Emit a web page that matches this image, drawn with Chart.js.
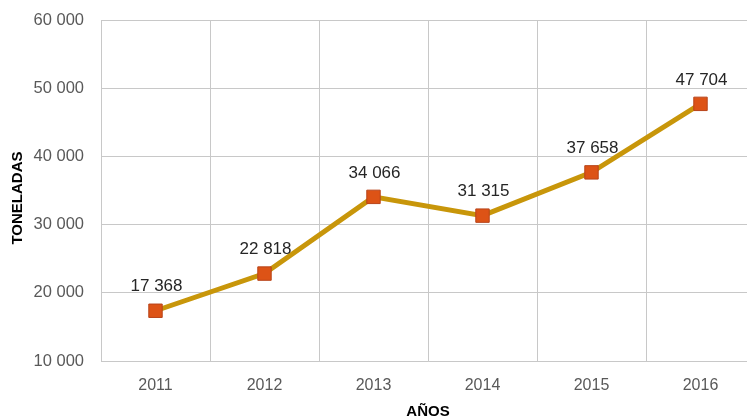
<!DOCTYPE html>
<html>
<head>
<meta charset="utf-8">
<script src="https://cdn.jsdelivr.net/npm/chart.js@4"></script>
<style>
html,body{margin:0;padding:0;overflow:hidden;background:#fff;}
#wrap{width:755px;height:430px;position:relative;}
</style>
</head>
<body>
<div id="wrap"><canvas id="c" width="755" height="430"></canvas></div>
<script>
const years = ['2011','2012','2013','2014','2015','2016'];
const toneladas = [17368, 22818, 34066, 31315, 37658, 47704];
const yMin = 10000, yMax = 60000, yStep = 10000;
const yTitle = 'TONELADAS';
const xTitle = 'AÑOS';

function fmt(v){ return String(v).replace(/\B(?=(\d{3})+(?!\d))/g,' '); }

const FONT = "'Liberation Sans', Arial, sans-serif";

const labelPlugin = {
  id: 'pointLabels',
  afterDatasetsDraw(chart){
    const ctx = chart.ctx;
    const meta = chart.getDatasetMeta(0);
    ctx.save();
    ctx.font = '17px ' + FONT;
    ctx.fillStyle = '#262626';
    ctx.textAlign = 'center';
    ctx.textBaseline = 'middle';
    meta.data.forEach((pt, i) => {
      ctx.fillText(fmt(toneladas[i]), pt.x + 1, pt.y - 24);
    });
    // y axis title
    ctx.translate(18, 198);
    ctx.rotate(-Math.PI / 2);
    ctx.font = 'bold 15px ' + FONT;
    ctx.fillStyle = '#000';
    ctx.fillText(yTitle, 0, 0);
    ctx.restore();
  }
};

new Chart(document.getElementById('c'), {
  type: 'line',
  data: {
    labels: years,
    datasets: [{
      data: toneladas,
      borderColor: '#C8960A',
      borderWidth: 5,
      tension: 0,
      pointStyle: 'rect',
      pointRadius: 9.5,
      pointHoverRadius: 9.5,
      pointBackgroundColor: '#DD5316',
      pointBorderColor: '#B8441A',
      pointBorderWidth: 1
    }]
  },
  options: {
    responsive: false,
    animation: false,
    events: [],
    layout: { autoPadding: false, padding: { top: 20, left: 0, right: 0, bottom: 0 } },
    plugins: { legend: { display: false }, tooltip: { enabled: false } },
    scales: {
      x: {
        offset: true,
        grid: { offset: true, color: '#C8C8C8', drawTicks: false, lineWidth: 1 },
        border: { color: '#C8C8C8' },
        ticks: { color: '#595959', font: { size: 16, family: FONT }, padding: 15 },
        title: { display: true, text: xTitle, color: '#000', font: { size: 15, weight: 'bold', family: FONT }, padding: { top: 0, bottom: 9 } },
        afterFit(s){ s.height = 69; s.paddingLeft = 0; s.paddingRight = 0; }
      },
      y: {
        min: yMin, max: yMax,
        grid: { color: '#C8C8C8', drawTicks: false },
        border: { color: '#C8C8C8' },
        ticks: { stepSize: yStep, color: '#595959', font: { size: 16.5, family: FONT }, padding: 17, callback: v => fmt(v) },
        title: { display: false },
        afterFit(s){ s.width = 101; s.paddingTop = 0; s.paddingBottom = 0; }
      }
    }
  },
  plugins: [labelPlugin]
});
</script>
</body>
</html>
